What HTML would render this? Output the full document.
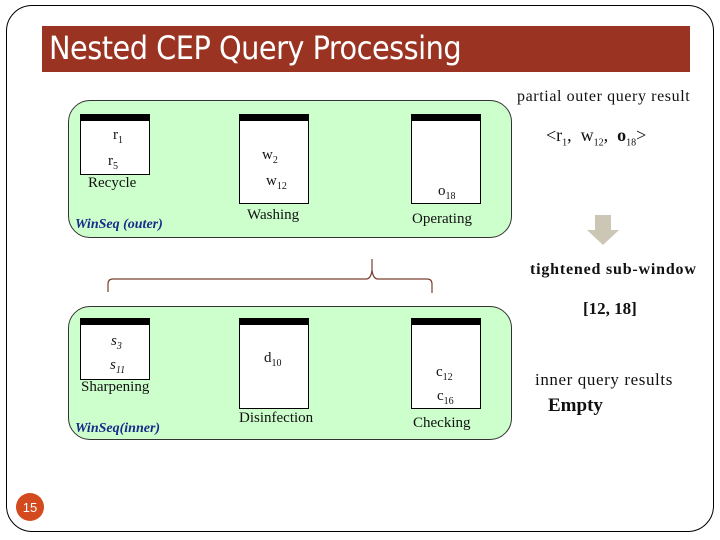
<!DOCTYPE html>
<html><head><meta charset="utf-8"><style>
body{margin:0;width:720px;height:540px;background:#fff;position:relative;overflow:hidden;font-family:"Liberation Serif",serif;}
.a{position:absolute;}
.frame{left:6px;top:5px;width:706px;height:525px;border:1.5px solid #000;border-radius:26px;}
.bar{left:42px;top:26px;width:648px;height:46px;background:#9a3322;}
.title{left:49px;top:29px;color:#fff;font-family:"DejaVu Sans Condensed","DejaVu Sans",sans-serif;font-size:32px;letter-spacing:-0.5px;}
.grp{left:68px;width:442px;background:#ccffcc;border:1px solid #333;border-radius:22px;}
.box{width:68px;background:#fff;border:1px solid #000;border-top:7px solid #000;}
.t{font-size:15px;color:#111;white-space:nowrap;}
sub{font-size:10px;}
.blue{color:#1a2a8a;font-style:italic;font-weight:bold;font-size:14px;}
.b{font-weight:bold;}
</style></head><body>
<div class="a frame"></div>
<div class="a bar"></div>
<div class="a title">Nested CEP Query Processing</div>
<div class="a t" style="left:517px;top:88px;font-size:16px;letter-spacing:0.6px;">partial outer query result</div>
<div class="a t" style="left:546px;top:125px;font-size:18px;">&lt;r<sub>1</sub>, &nbsp;w<sub>12</sub>, &nbsp;<b>o</b><sub>18</sub>&gt;</div>

<div class="a grp" style="top:100px;height:136px;"></div>
<div class="a box" style="left:80px;top:114px;height:53px;"></div>
<div class="a box" style="left:239px;top:114px;height:82px;"></div>
<div class="a box" style="left:411px;top:114px;height:82px;"></div>
<div class="a t" style="left:113px;top:127px;">r<sub>1</sub></div>
<div class="a t" style="left:108px;top:153px;">r<sub>5</sub></div>
<div class="a t" style="left:88px;top:175px;">Recycle</div>
<div class="a t" style="left:262px;top:147px;">w<sub>2</sub></div>
<div class="a t" style="left:266px;top:173px;">w<sub>12</sub></div>
<div class="a t" style="left:247px;top:207px;">Washing</div>
<div class="a t" style="left:438px;top:183px;">o<sub>18</sub></div>
<div class="a t" style="left:412px;top:211px;">Operating</div>
<div class="a blue" style="left:75px;top:217px;">WinSeq (outer)</div>

<svg class="a" style="left:0;top:0" width="720" height="540">
<path d="M108 292 V284 Q108 279 113 279 H366 Q371 279 372 270 V259 M372 270 Q373 279 378 279 H427 Q432 279 432 284 V293" fill="none" stroke="#7a4030" stroke-width="1.2"/>
<path d="M595 215 H611 V230 H619 L603 245 L587 230 H595 Z" fill="#ccc6b4"/>
<circle cx="30" cy="507" r="14" fill="#d24a1e"/>
<text x="30" y="512" fill="#fff" font-family="Liberation Sans,sans-serif" font-size="13" text-anchor="middle">15</text>
</svg>
<div class="a t b" style="left:530px;top:261px;font-size:16px;letter-spacing:0.8px;">tightened sub-window</div>
<div class="a t b" style="left:583px;top:299px;font-size:17px;">[12, 18]</div>

<div class="a grp" style="top:306px;height:132px;"></div>
<div class="a box" style="left:80px;top:318px;height:54px;"></div>
<div class="a box" style="left:239px;top:318px;height:83px;"></div>
<div class="a box" style="left:411px;top:318px;height:83px;"></div>
<div class="a t" style="left:111px;top:333px;font-style:italic;">s<sub>3</sub></div>
<div class="a t" style="left:110px;top:357px;font-style:italic;">s<sub>11</sub></div>
<div class="a t" style="left:81px;top:379px;">Sharpening</div>
<div class="a t" style="left:264px;top:350px;">d<sub>10</sub></div>
<div class="a t" style="left:436px;top:364px;">c<sub>12</sub></div>
<div class="a t" style="left:437px;top:388px;">c<sub>16</sub></div>
<div class="a t" style="left:239px;top:410px;">Disinfection</div>
<div class="a t" style="left:413px;top:415px;">Checking</div>
<div class="a blue" style="left:75px;top:421px;">WinSeq(inner)</div>

<div class="a t" style="left:535px;top:370px;font-size:17px;letter-spacing:0.6px;">inner query results</div>
<div class="a t b" style="left:548px;top:395px;font-size:19px;">Empty</div>
</body></html>
